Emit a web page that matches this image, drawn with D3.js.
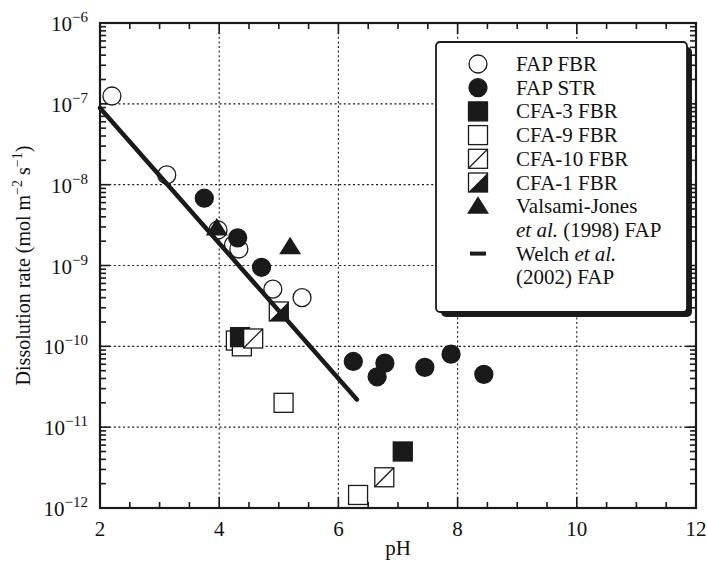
<!DOCTYPE html>
<html>
<head>
<meta charset="utf-8">
<script src="https://cdn.jsdelivr.net/npm/d3@7"></script>
<style>
  body { margin: 0; background: #fff; }
  text { font-family: "Liberation Serif", "DejaVu Serif", "Times New Roman", serif; fill: #111; }
</style>
</head>
<body>
<svg width="707" height="562"></svg>
<script>
const INK = "#1a1a1a";

// data: [pH, rate]
const fapFBR = [[2.2, 1.25e-7], [3.12, 1.32e-8], [3.98, 2.75e-9], [4.24, 1.8e-9], [4.33, 1.6e-9], [4.9, 5.1e-10], [5.39, 4.0e-10]];
const fapSTR = [[3.75, 6.8e-9], [4.31, 2.2e-9], [4.71, 9.5e-10], [6.25, 6.5e-11], [6.65, 4.2e-11], [6.78, 6.2e-11], [7.45, 5.5e-11], [7.89, 8.0e-11], [8.44, 4.5e-11]];
const cfa9 = [[4.28, 1.18e-10], [4.38, 1.0e-10], [5.08, 2.0e-11], [6.33, 1.45e-12]];
const cfa3 = [[4.35, 1.3e-10], [7.08, 5.0e-12]];
const cfa10 = [[4.57, 1.25e-10], [6.77, 2.4e-12]];
const cfa1 = [[5.0, 2.7e-10]];
const valsami = [[3.96, 2.9e-9], [5.19, 1.7e-9]];
const welch = [[2.0, 8.9e-8], [6.31, 2.2e-11]];

const xTicks = [2, 4, 6, 8, 10, 12];
const yTicks = [1e-12, 1e-11, 1e-10, 1e-9, 1e-8, 1e-7, 1e-6];

const legendRows = [
  { sym: "openCircle", label: ["FAP FBR"] },
  { sym: "filledCircle", label: ["FAP STR"] },
  { sym: "filledSquare", label: ["CFA-3 FBR"] },
  { sym: "openSquare", label: ["CFA-9 FBR"] },
  { sym: "slashSquare", label: ["CFA-10 FBR"] },
  { sym: "halfSquare", label: ["CFA-1 FBR"] },
  { sym: "triangle", label: ["Valsami-Jones"] },
  { sym: null, label: [["et al.", true], [" (1998) FAP", false]] },
  { sym: "dash", label: [["Welch ", false], ["et al.", true]] },
  { sym: null, label: ["(2002) FAP"] }
];

// layout
const m = { top: 23, right: 11, bottom: 54, left: 100 };
const W = 707, H = 562;
const w = W - m.left - m.right, h = H - m.top - m.bottom;

var svg = d3.select("svg");

var x = d3.scaleLinear().domain([2, 12]).range([m.left, m.left + w]);
var y = d3.scaleLog().domain([1e-12, 1e-6]).range([m.top + h, m.top]);

// grid
var grid = svg.append("g").attr("stroke", INK).attr("stroke-width", 1.1).attr("stroke-dasharray", "2,2.6");
grid.selectAll("line.gx").data(xTicks.slice(1, -1)).enter().append("line")
  .attr("x1", d => x(d)).attr("x2", d => x(d)).attr("y1", m.top).attr("y2", m.top + h);
grid.selectAll("line.gy").data(yTicks.slice(1, -1)).enter().append("line")
  .attr("y1", d => y(d)).attr("y2", d => y(d)).attr("x1", m.left).attr("x2", m.left + w);

// ticks (inward, on all four sides)
var xMinor = d3.range(2, 12.01, 0.5);
var yMinor = [];
for (let e = -12; e < -6; e++) for (let k = 2; k <= 9; k++) yMinor.push(k * Math.pow(10, e));

var ticks = svg.append("g").attr("stroke", INK).attr("stroke-width", 1.6);
xMinor.forEach(function (d) {
  let len = (d % 2 === 0) ? 11 : 6;
  ticks.append("line").attr("x1", x(d)).attr("x2", x(d)).attr("y1", m.top + h).attr("y2", m.top + h - len);
  ticks.append("line").attr("x1", x(d)).attr("x2", x(d)).attr("y1", m.top).attr("y2", m.top + len);
});
yMinor.concat(yTicks).forEach(function (d) {
  let major = yTicks.indexOf(d) >= 0;
  let len = major ? 10 : 6;
  ticks.append("line").attr("y1", y(d)).attr("y2", y(d)).attr("x1", m.left).attr("x2", m.left + len);
  ticks.append("line").attr("y1", y(d)).attr("y2", y(d)).attr("x1", m.left + w).attr("x2", m.left + w - len);
});

// frame
svg.append("rect").attr("x", m.left).attr("y", m.top).attr("width", w).attr("height", h)
  .attr("fill", "none").attr("stroke", INK).attr("stroke-width", 2.2);

// tick labels
svg.append("g").selectAll("text").data(xTicks).enter().append("text")
  .attr("x", d => x(d)).attr("y", m.top + h + 28).attr("text-anchor", "middle")
  .attr("font-size", 21).text(d => d);

var yl = svg.append("g").selectAll("text").data(yTicks).enter().append("text")
  .attr("x", m.left - 12).attr("y", d => y(d) + 8).attr("text-anchor", "end").attr("font-size", 21);
yl.append("tspan").text("10");
yl.append("tspan").attr("dy", -9).attr("font-size", 15).text(d => "\u2212" + Math.round(-Math.log10(d)));

// axis titles
svg.append("text").attr("x", x(7)).attr("y", 555).attr("text-anchor", "middle").attr("font-size", 21).text("pH");

var yt = svg.append("text").attr("transform", `translate(30, ${m.top + h / 2}) rotate(-90)`)
  .attr("text-anchor", "middle").attr("font-size", 20);
yt.append("tspan").text("Dissolution rate (mol m");
yt.append("tspan").attr("dy", -8).attr("font-size", 14).text("\u22122");
yt.append("tspan").attr("dy", 8).text(" s");
yt.append("tspan").attr("dy", -8).attr("font-size", 14).text("\u22121");
yt.append("tspan").attr("dy", 8).text(")");

// markers
const S = 19, R = 9;
function drawSym(g, sym, cx, cy) {
  if (sym === "openCircle" || sym === "filledCircle") {
    g.append("circle").attr("cx", cx).attr("cy", cy).attr("r", R)
      .attr("fill", sym === "filledCircle" ? INK : "#fff").attr("stroke", INK).attr("stroke-width", 1.3);
  } else if (sym === "triangle") {
    let s = 10;
    g.append("path").attr("d", `M${cx},${cy - s}L${cx + s * 1.1},${cy + s * 0.75}L${cx - s * 1.1},${cy + s * 0.75}Z`).attr("fill", INK);
  } else if (sym === "dash") {
    g.append("line").attr("x1", cx - 8).attr("x2", cx + 8).attr("y1", cy).attr("y2", cy).attr("stroke", INK).attr("stroke-width", 4);
  } else {
    let x0 = cx - S / 2, y0 = cy - S / 2;
    g.append("rect").attr("x", x0).attr("y", y0).attr("width", S).attr("height", S)
      .attr("fill", sym === "filledSquare" ? INK : "#fff").attr("stroke", INK).attr("stroke-width", 1.3);
    if (sym === "slashSquare")
      g.append("line").attr("x1", x0).attr("y1", y0 + S).attr("x2", x0 + S).attr("y2", y0).attr("stroke", INK).attr("stroke-width", 1.3);
    if (sym === "halfSquare")
      g.append("path").attr("d", `M${x0},${y0 + S}L${x0 + S},${y0}L${x0 + S},${y0 + S}Z`).attr("fill", INK);
  }
}

var pts = svg.append("g");
[[fapFBR, "openCircle"], [fapSTR, "filledCircle"], [valsami, "triangle"], [cfa9, "openSquare"],
 [cfa3, "filledSquare"], [cfa10, "slashSquare"], [cfa1, "halfSquare"]].forEach(function ([data, sym]) {
  data.forEach(d => drawSym(pts, sym, x(d[0]), y(d[1])));
});

// Welch et al. (2002) rate law
svg.append("path").datum(welch)
  .attr("d", d3.line().x(d => x(d[0])).y(d => y(d[1])))
  .attr("stroke", INK).attr("stroke-width", 4.5).attr("stroke-linecap", "round").attr("fill", "none");

// legend
const L = { x: 436, y: 42, w: 251, h: 270, rowH: 23.7 };
var leg = svg.append("g");
leg.append("rect").attr("x", L.x + 5).attr("y", L.y + 5).attr("width", L.w).attr("height", L.h).attr("rx", 5).attr("fill", INK);
leg.append("rect").attr("x", L.x).attr("y", L.y).attr("width", L.w).attr("height", L.h).attr("rx", 4)
  .attr("fill", "#fff").attr("stroke", INK).attr("stroke-width", 1.8);

legendRows.forEach(function (r, i) {
  let cy = L.y + 22 + i * L.rowH;
  if (r.sym) drawSym(leg, r.sym, 478, cy);
  let t = leg.append("text").attr("x", 516).attr("y", cy + 7).attr("font-size", 21);
  r.label.forEach(function (p) {
    if (typeof p === "string") t.append("tspan").text(p);
    else t.append("tspan").attr("font-style", p[1] ? "italic" : null).text(p[0]);
  });
});
</script>
</body>
</html>
